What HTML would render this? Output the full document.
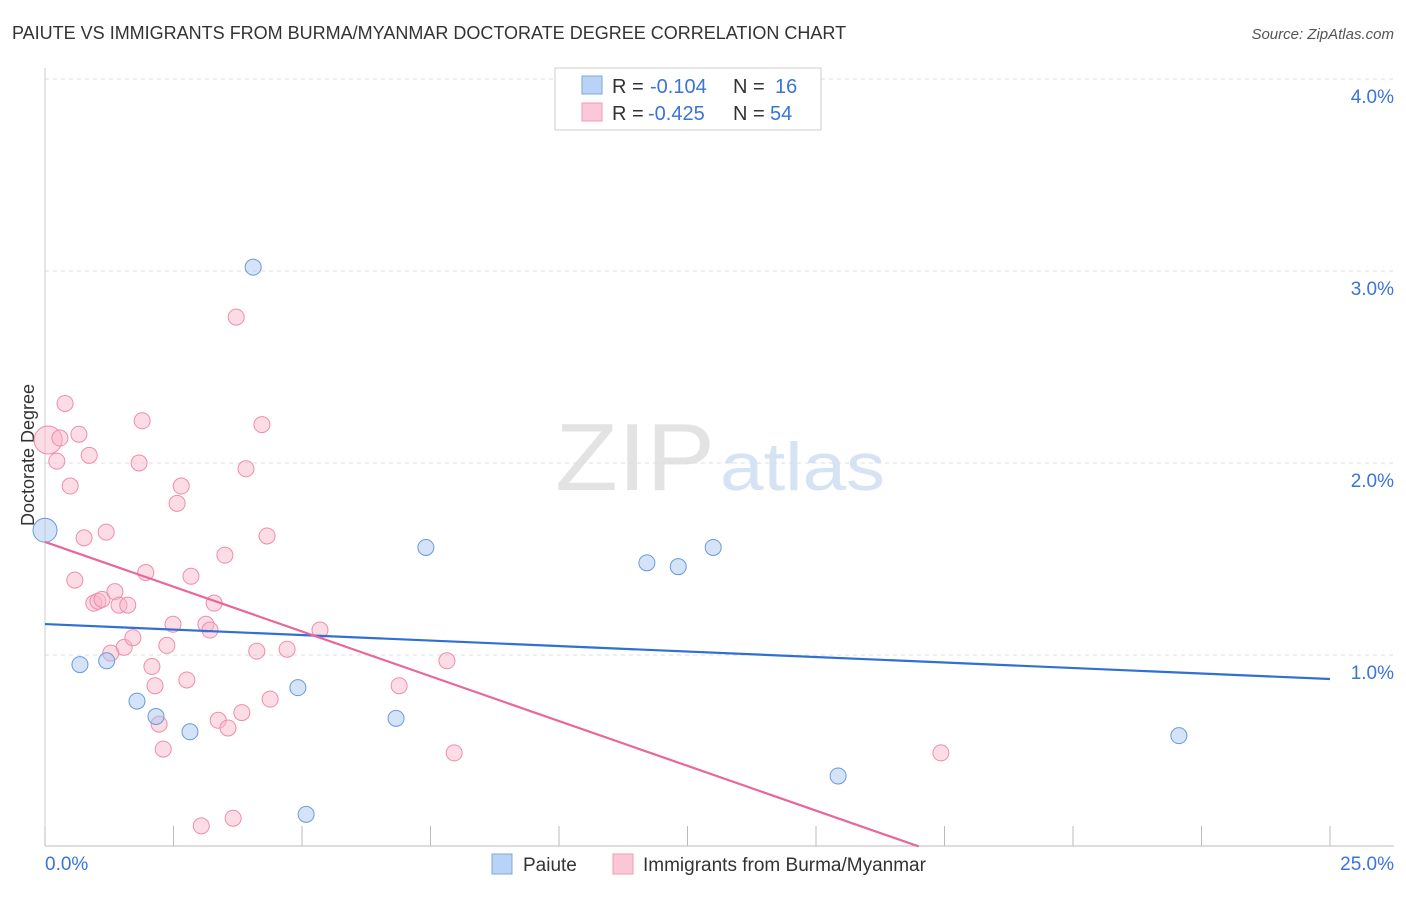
<!DOCTYPE html>
<html><head><meta charset="utf-8"><style>
body{margin:0;background:#fff;font-family:"Liberation Sans",sans-serif;}
svg text{font-family:"Liberation Sans",sans-serif;}
</style></head><body>
<svg id="c" width="1406" height="892">
<text x="12" y="39" font-size="18" fill="#333">PAIUTE VS IMMIGRANTS FROM BURMA/MYANMAR DOCTORATE DEGREE CORRELATION CHART</text>
<text x="1394" y="39" font-size="15" fill="#555" text-anchor="end" font-style="italic">Source: ZipAtlas.com</text>
<text x="555" y="490" font-size="96" fill="#e3e3e3" font-family="Liberation Serif" textLength="160" lengthAdjust="spacingAndGlyphs">ZIP</text>
<text x="720" y="490" font-size="68" fill="#d5e3f5" textLength="165" lengthAdjust="spacingAndGlyphs">atlas</text>
<text x="34" y="455" font-size="18" fill="#333" text-anchor="middle" transform="rotate(-90 34 455)">Doctorate Degree</text>
<g id="grid"></g><g id="pts"></g><g id="lines"></g>
<g>
<rect x="555" y="68" width="266" height="62" fill="#fff" stroke="#ccc"/>
<rect x="582" y="76" width="20" height="18" fill="#b8d3f5" stroke="#7aa8e0"/>
<rect x="582" y="103" width="20" height="18" fill="#fbc8d8" stroke="#f09ab5"/>
<text y="93" font-size="20" fill="#333"><tspan x="612">R =</tspan><tspan x="650" fill="#3a74d8">-0.104</tspan><tspan x="733">N =</tspan><tspan x="775" fill="#3a74d8">16</tspan></text>
<text y="120" font-size="20" fill="#333"><tspan x="612">R =</tspan><tspan x="648" fill="#3a74d8">-0.425</tspan><tspan x="733">N =</tspan><tspan x="770" fill="#3a74d8">54</tspan></text>
</g>
<g>
<rect x="492" y="854" width="20" height="20" fill="#b8d3f5" stroke="#7aa8e0"/>
<text x="523" y="871" font-size="19" fill="#333">Paiute</text>
<rect x="613" y="854" width="20" height="20" fill="#fbc8d8" stroke="#f09ab5"/>
<text x="643" y="871" font-size="19" fill="#333">Immigrants from Burma/Myanmar</text>
</g>
</svg>
<script>
const xTicks=[0,2.5,5,7.5,10,12.5,15,17.5,20,22.5,25];
const yTicks=[1,2,3,4];
const yTickLabels=["1.0%","2.0%","3.0%","4.0%"];
const paiuteX=[0,0.68,1.2,1.79,2.16,2.82,4.05,4.92,5.08,6.83,7.41,11.71,12.32,13.0,15.43,22.06];
const paiuteY=[1.65,0.95,0.97,0.76,0.68,0.60,3.02,0.83,0.17,0.67,1.56,1.48,1.46,1.56,0.37,0.58];
const burmaX=[0.06,0.39,0.29,0.23,0.66,0.86,0.49,0.58,0.76,1.19,0.95,1.03,1.11,1.36,1.44,1.61,1.54,1.28,1.71,1.96,1.89,1.83,2.08,2.14,2.22,2.30,2.37,2.49,2.57,2.65,2.84,2.76,3.13,3.21,3.29,3.37,3.50,3.56,3.72,3.91,3.83,4.12,4.22,4.32,4.38,4.71,5.35,6.89,7.82,7.96,17.43,3.04,3.66];
const burmaY=[2.12,2.31,2.13,2.01,2.15,2.04,1.88,1.39,1.61,1.64,1.27,1.28,1.29,1.33,1.26,1.26,1.04,1.01,1.09,1.43,2.22,2.0,0.94,0.84,0.64,0.51,1.05,1.16,1.79,1.88,1.41,0.87,1.16,1.13,1.27,0.66,1.52,0.62,2.76,1.97,0.70,1.02,2.2,1.62,0.77,1.03,1.13,0.84,0.97,0.49,0.49,0.11,0.15];
const lineIntercept=[1.161,1.589];
const lineSlope=[-0.01144,-0.0933];
const lineEnd=[25,17.0];
const X=v=>45+v*51.4, Y=v=>847-v*192;
const NS='http://www.w3.org/2000/svg';
function mk(t,a,p){const e=document.createElementNS(NS,t);for(const k in a)e.setAttribute(k,a[k]);p.appendChild(e);return e;}
const g=document.getElementById('grid');
yTicks.forEach((v,i)=>{
 const l=mk('line',{x1:45,x2:1394,y1:Y(v),y2:Y(v),stroke:'#ddd','stroke-dasharray':'4,4'},g);
 
 
 const t=mk('text',{x:1394,y:Y(v)+24,'font-size':19,fill:'#3a74d8','text-anchor':'end'},g);t.textContent=yTickLabels[i];
 
 
});
const topGrid=mk('line',{x1:45,x2:1394,y1:79,y2:79,stroke:'#ddd','stroke-dasharray':'4,4'},g);


const ax=mk('line',{x1:45,x2:1394,y1:846,y2:846,stroke:'#bbb'},g);


const ay=mk('line',{x1:45,x2:45,y1:68,y2:846,stroke:'#ccc'},g);


xTicks.forEach(v=>{const l=mk('line',{x1:X(v),x2:X(v),y1:826,y2:846,stroke:'#bbb'},g);
 
 });
const t0=mk('text',{x:45,y:870,'font-size':19,fill:'#3a74d8'},g);t0.textContent='0.0%';


const t1=mk('text',{x:1394,y:870,'font-size':19,fill:'#3a74d8','text-anchor':'end'},g);t1.textContent='25.0%';


const p=document.getElementById('pts');
burmaX.forEach((v,i)=>{const c=mk('circle',{cx:X(v),cy:Y(burmaY[i]),r:i==0?14:8,fill:'rgba(248,180,200,0.45)',stroke:'#f08cab','stroke-width':1},p);
 
 });
paiuteX.forEach((v,i)=>{const c=mk('circle',{cx:X(v),cy:Y(paiuteY[i]),r:i==0?12:8,fill:'rgba(170,200,240,0.5)',stroke:'#6a9ad8','stroke-width':1},p);
 
 });
const L=document.getElementById('lines');const cols=['#2f6fd6','#e8679a'];const nm=['paiute-trendline','burma-trendline'];
[0,1].forEach(i=>{const l=mk('line',{x1:X(0),y1:Y(lineIntercept[i]),x2:X(lineEnd[i]),y2:Y(lineIntercept[i]+lineSlope[i]*lineEnd[i]),stroke:cols[i],'stroke-width':2.2},L);
 
 });
</script>
</body></html>
